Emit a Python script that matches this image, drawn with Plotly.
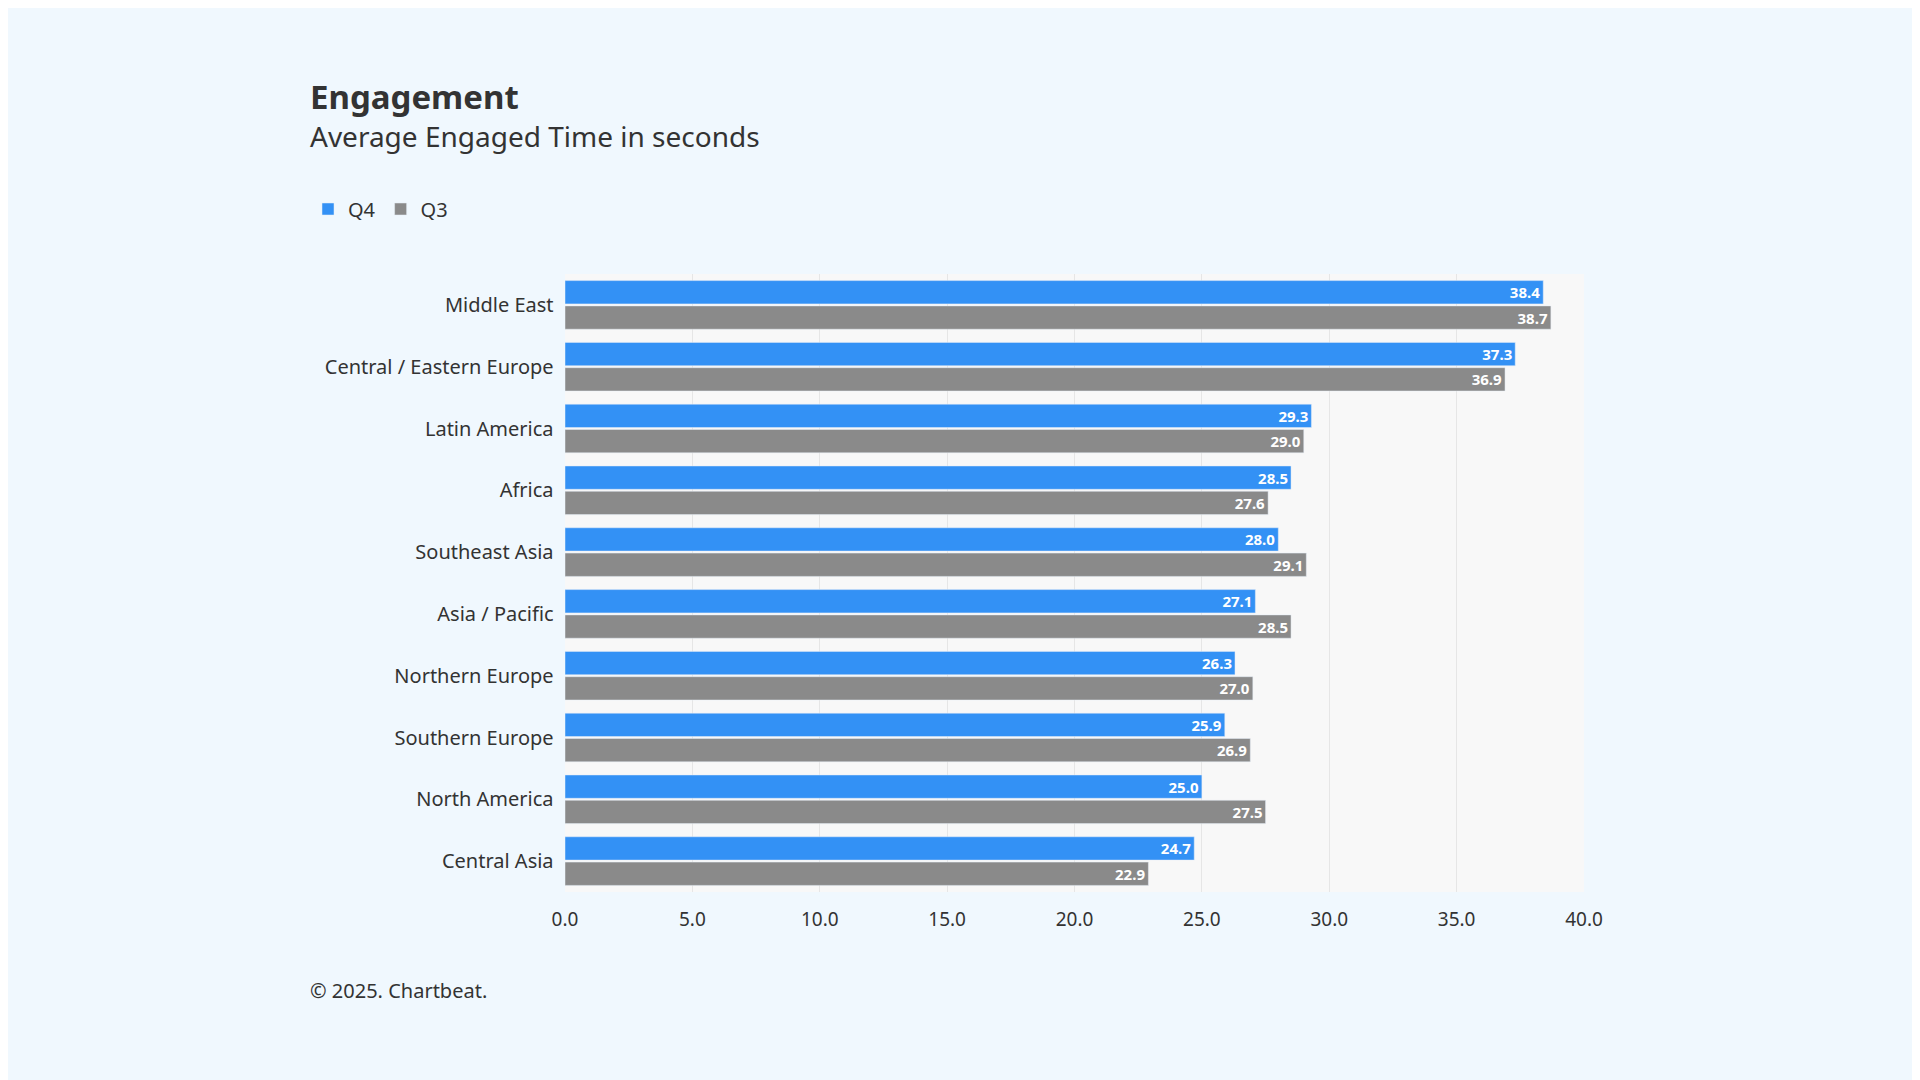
import plotly.graph_objects as go

regions = ["Middle East", "Central / Eastern Europe", "Latin America", "Africa", "Southeast Asia",
           "Asia / Pacific", "Northern Europe", "Southern Europe", "North America", "Central Asia"]
q4 = [38.4, 37.3, 29.3, 28.5, 28.0, 27.1, 26.3, 25.9, 25.0, 24.7]
q3 = [38.7, 36.9, 29.0, 27.6, 29.1, 28.5, 27.0, 26.9, 27.5, 22.9]

F = "Noto Sans"
L, R, T, B = 557, 344, 266, 196
fig = go.Figure()
for name, vals, col in [("Q4", q4, "#3391f5"), ("Q3", q3, "#8a8a8a")]:
    fig.add_trace(go.Bar(y=regions, x=vals, name=name, orientation="h", marker_color=col,
                         text=[f"{v:.1f}" for v in vals], textposition="inside",
                         insidetextanchor="end", cliponaxis=False,
                         textfont=dict(color="white", size=15, family=F, weight="bold")))
fig.update_layout(
    width=1920, height=1080, paper_bgcolor="#f0f8fe", plot_bgcolor="#f8f8f8",
    font=dict(family=F, color="#333333"),
    barmode="group", bargap=0.18, bargroupgap=0.08,
    uniformtext=dict(minsize=15, mode="show"),
    margin=dict(l=L, r=R, t=T, b=B),
    showlegend=True,
    xaxis=dict(range=[0, 40], dtick=5, tickformat=".1f", showgrid=True, gridcolor="#e6e6e6",
               tickfont=dict(size=19), zeroline=False, ticks="outside", ticklen=10,
               tickcolor="rgba(0,0,0,0)"),
    yaxis=dict(autorange="reversed", tickfont=dict(size=20), ticksuffix="  ", showgrid=False),
)
pw, ph = 1920 - L - R, 1080 - T - B
fig.update_layout(legend=dict(orientation="h", x=(300 - L) / pw, y=1 - (201 - T) / ph,
                              xanchor="left", yanchor="middle", traceorder="normal",
                              font=dict(size=20)))
ann = [
    dict(text="<b>Engagement</b>", px=300, py=88, size=33),
    dict(text="Average Engaged Time in seconds", px=300, py=128, size=28),
    dict(text="© 2025. Chartbeat.", px=300, py=982, size=20),
]
for a in ann:
    fig.add_annotation(text=a["text"], xref="paper", yref="paper",
                       x=(a["px"] - L) / pw, y=1 - (a["py"] - T) / ph,
                       xanchor="left", yanchor="middle", showarrow=False,
                       font=dict(size=a["size"], family=F, color="#333333"))
fig.write_html("out.html")
